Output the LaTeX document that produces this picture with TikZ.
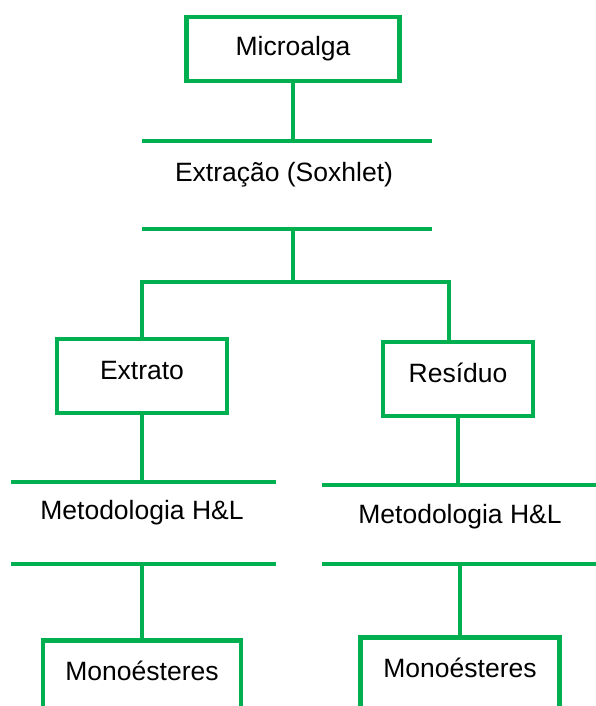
\documentclass[tikz,border=0pt]{standalone}
\usepackage{fontspec}
\setmainfont{Liberation Sans}
\usetikzlibrary{positioning}
\definecolor{verde}{RGB}{0,176,80}

\tikzset{
  caixa/.style={draw=verde, line width=4.5pt, rectangle, inner sep=0pt, font=\fontsize{26.5}{30}\selectfont},
  barra/.style={draw=verde, line width=4.5pt},
  rotulo/.style={font=\fontsize{26.5}{30}\selectfont, inner sep=0pt}
}

\begin{document}
\begin{tikzpicture}[x=1pt,y=-1pt,node distance=137pt,on grid]
\useasboundingbox (0,0) rectangle (595,706);

\node[caixa, minimum width=213pt, minimum height=64pt] (alga) at (293,49) {Microalga};
\coordinate (b1w) at (142,141);
\coordinate (b1e) at (432,141);
\node[rotulo] (extracao) at (284,175) {Extração (Soxhlet)};
\coordinate (b2w) at (142,229);
\coordinate (b2e) at (432,229);
\coordinate (ramo-l) at (142,282);
\coordinate (ramo-r) at (449,282);

\node[caixa, minimum width=170pt, minimum height=74pt, text height=19pt, text depth=12pt] (extrato) at (142,376) {Extrato};
\node[caixa, minimum width=150pt, minimum height=74pt, text height=19pt, text depth=12pt] (residuo) at (458,379) {Resíduo};

\node[rotulo] (metodo-l) [below=of extrato] {Metodologia H\&L};
\node[rotulo] (metodo-r) at (460,517) {Metodologia H\&L};
\coordinate (b3lw) at (11,482);
\coordinate (b3le) at (276,482);
\coordinate (b4lw) at (11,564);
\coordinate (b4le) at (276,564);
\coordinate (b3rw) at (322,485);
\coordinate (b3re) at (600,485);
\coordinate (b4rw) at (322,564);
\coordinate (b4re) at (600,564);

\node[caixa, anchor=north, minimum width=198pt, inner ysep=21pt, text height=19pt, text depth=60pt] (mono-l) at (142,638) {Monoésteres};
\node[caixa, anchor=north, minimum width=199pt, inner ysep=21pt, text height=19pt, text depth=60pt] (mono-r) at (460,635) {Monoésteres};

\draw[barra] (alga.south) -- (alga.south |- b1w);
\draw[barra] (b1w) -- (b1e);
\draw[barra] (b2w) -- (b2e);
\draw[barra] (alga.south |- b2w) -- (alga.south |- ramo-l);
\draw[barra] (extrato.north) -- (ramo-l) -- (ramo-r) -- (ramo-r |- residuo.north);

\draw[barra] (extrato.south) -- (extrato.south |- b3lw);
\draw[barra] (b3lw) -- (b3le);
\draw[barra] (b4lw) -- (b4le);
\draw[barra] (mono-l.north) -- (mono-l.north |- b4lw);

\draw[barra] (residuo.south) -- (residuo.south |- b3rw);
\draw[barra] (b3rw) -- (b3re);
\draw[barra] (b4rw) -- (b4re);
\draw[barra] (mono-r.north) -- (mono-r.north |- b4rw);
\end{tikzpicture}
\end{document}
